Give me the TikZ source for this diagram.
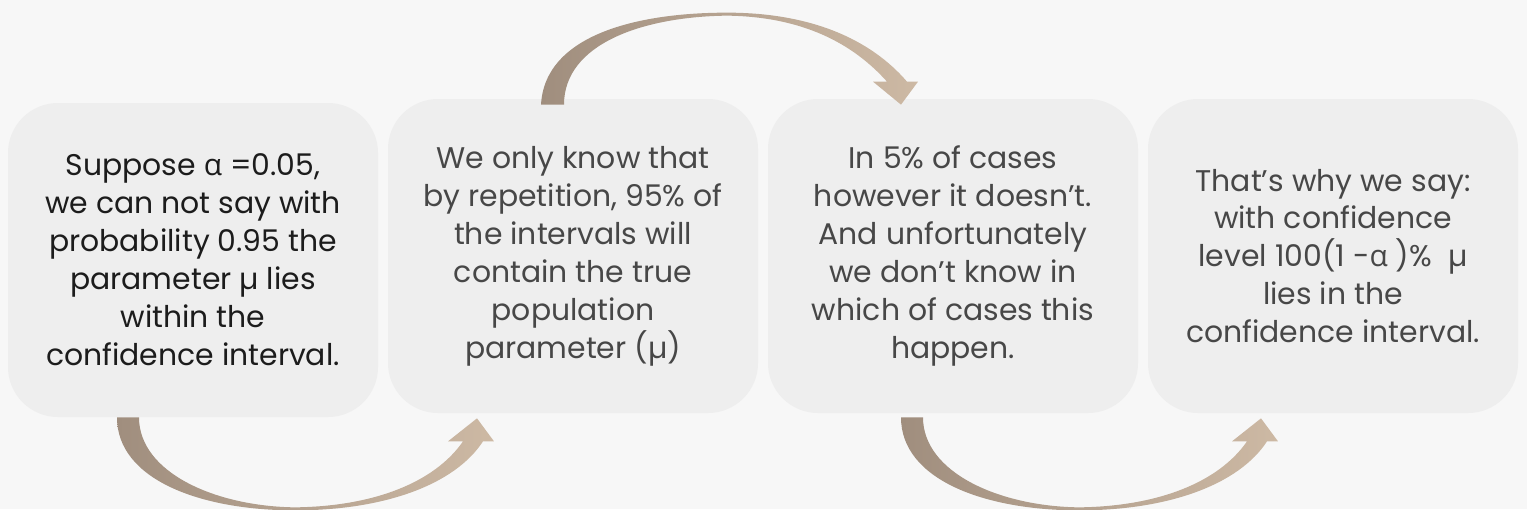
\documentclass[tikz,border=0pt]{standalone}
\usepackage{fontspec}
\setmainfont{Poppins}
\newfontfamily\greekfont{Open Sans}
\usetikzlibrary{positioning,shadings}
\definecolor{canvas}{HTML}{F7F7F7}
\definecolor{card}{HTML}{EEEEEE}
\definecolor{ink}{HTML}{1C1C1C}
\definecolor{inkgray}{HTML}{474747}
\definecolor{flowdark}{HTML}{A08E7E}
\definecolor{flowlight}{HTML}{CDB9A4}
\newcommand{\alf}{{\greekfont α}}

\tikzset{
  flow/.style={left color=flowdark, right color=flowlight},
  % crescent arrow running under two cards
  lowflow/.pic={
    \shade[flow] (-1.52,0) .. controls (-1.52,-1.24) and (0.14,-1.86) .. (2.04,-1.86)
      .. controls (3.84,-1.86) and (5.24,-1.34) .. (5.80,-0.48)
      -- (6.02,-0.48) -- (5.68,-0.02) -- (5.10,-0.48) -- (5.40,-0.48)
      .. controls (4.84,-1.29) and (3.64,-1.78) .. (2.04,-1.80)
      .. controls (0.44,-1.78) and (-1.08,-1.10) .. (-1.08,0) -- cycle;
  },
  % crescent arrow running over two cards
  highflow/.pic={
    \shade[flow] (-0.64,-0.12) .. controls (-0.56,1.30) and (1.34,1.72) .. (3.08,1.72)
      .. controls (4.74,1.72) and (5.94,1.20) .. (6.68,0.34)
      -- (6.90,0.34) -- (6.56,-0.12) -- (6.00,0.34) -- (6.28,0.34)
      .. controls (5.60,1.10) and (4.60,1.64) .. (3.08,1.66)
      .. controls (1.40,1.64) and (-0.18,1.10) .. (-0.18,-0.12) -- cycle;
  }
}

\begin{document}
\begin{tikzpicture}[
  cardbox/.style={rectangle, fill=card, minimum width=7.4cm, minimum height=6.28cm, rounded corners=1cm, align=center, text=inkgray, font=\fontsize{17}{21.6}\selectfont}
]
  \fill[canvas] (0,0) rectangle (30.54,10.18);
  \useasboundingbox (0,0) rectangle (30.54,10.18);

  \node[cardbox, text=ink] (suppose) at (3.86,4.98)  {Suppose \alf{} =0.05,\\we can not say with\\probability 0.95 the\\parameter µ lies\\within the\\confidence interval.};
  \node[cardbox]           (repeat)  at (11.46,5.06) {We only know that\\by repetition, 95\% of\\the intervals will\\contain the true\\population\\parameter (µ)};
  \node[cardbox]           (miss)    at (19.06,5.06) {In 5\% of cases\\however it doesn’t.\\And unfortunately\\we don’t know in\\which of cases this\\happen.};
  \node[cardbox]           (level)   at (26.66,5.06) {That’s why we say:\\with confidence\\level 100(1 -\alf{} )\%~~µ\\lies in the\\confidence interval.};

  \pic at (suppose.south) {lowflow};
  \pic at (repeat.north) {highflow};
  \pic at ([shift={(0.48,-0.08)}]miss.south) {lowflow};
\end{tikzpicture}
\end{document}
